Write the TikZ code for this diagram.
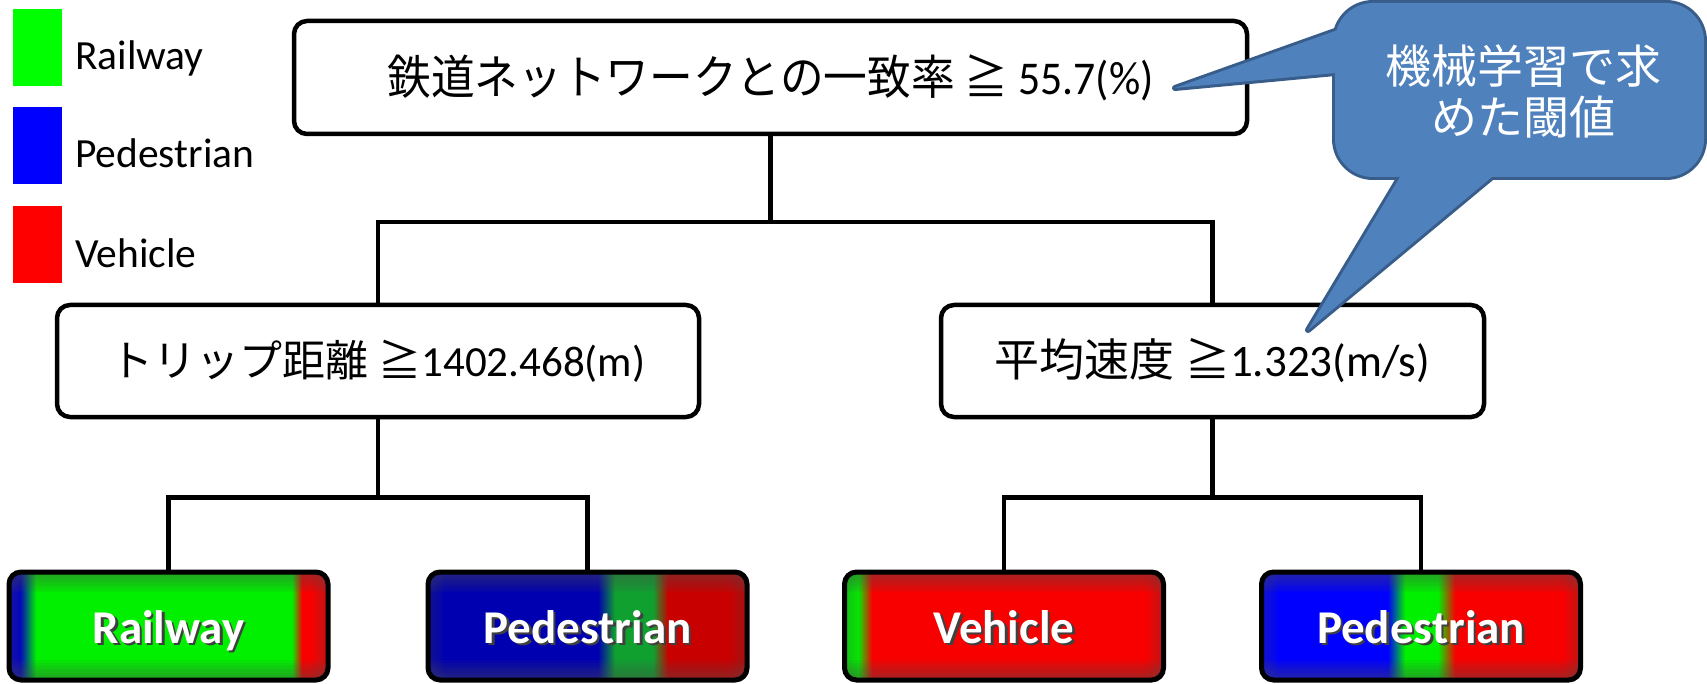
\documentclass[tikz,border=0pt]{standalone}
\usepackage{fontspec}
\setmainfont{Carlito}
\newfontfamily\jp{Noto Sans CJK JP}
\usetikzlibrary{calc}
\definecolor{cbfill}{HTML}{4F81BD}
\definecolor{cbline}{HTML}{385D8A}
\definecolor{lgreen}{HTML}{00FF00}
\definecolor{lblue}{HTML}{0000FF}
\definecolor{lred}{HTML}{FF0000}
\definecolor{bgreen}{HTML}{00F000}
\definecolor{bblue}{HTML}{0000C8}
\definecolor{bred}{HTML}{F80000}
\definecolor{dblue}{HTML}{0000B0}
\definecolor{dgreen}{HTML}{10A030}
\definecolor{dred}{HTML}{C80000}
\definecolor{vig}{HTML}{505050}
\newcommand\vignette[2]{%
  \foreach \i in {1,...,8}{%
    \fill[vig,opacity=0.07] (#1,572) rectangle (#2,572+2.5*\i);
    \fill[vig,opacity=0.07] (#1,680-2.5*\i) rectangle (#2,680);
    \fill[vig,opacity=0.04] (#1,572) rectangle (#1+2*\i,680);
    \fill[vig,opacity=0.04] (#2-2*\i,572) rectangle (#2,680);
  }}
\newcommand\shtext[1]{\makebox[0pt][l]{\hspace{2.5pt}\raisebox{-2.5pt}{\textcolor{black!75}{#1}}}#1}
\begin{document}
\begin{tikzpicture}[x=1pt,y=-1pt,
  box/.style={draw=black, line width=4.5pt, rounded corners=13pt, fill=white, inner sep=0pt, font=\fontsize{43}{50}\selectfont},
  conn/.style={draw=black, line width=4.5pt},
  leafbox/.style={draw=black, line width=5pt, rounded corners=12pt, minimum width=319pt, minimum height=108pt, inner sep=0pt, text height=34pt, text depth=0pt, text=white, font=\bfseries\fontsize{47}{54}\selectfont},
  legsq/.style={minimum width=49pt, minimum height=77pt, inner sep=0pt},
  legtext/.style={anchor=base west, inner sep=0pt, font=\fontsize{41.5}{48}\selectfont}]
\useasboundingbox (0,0) rectangle (1707,684);

% legend
\node[legsq, fill=lgreen] (lg1) at (37.5,47.5) {};
\node[legsq, fill=lblue] (lg2) at (37.5,145.5) {};
\node[legsq, fill=lred] (lg3) at (37.5,244.5) {};
\node[legtext] (lt1) at (75,70) {Railway};
\node[legtext] (lt2) at (75,168) {Pedestrian};
\node[legtext] (lt3) at (75,268) {Vehicle};

% leaf backgrounds
\begin{scope}
\clip[rounded corners=12pt] (9,572) rectangle (328,680);
\fill[bblue] (9,572) rectangle (20,680);
\shade[left color=bblue, right color=bgreen] (20,572) rectangle (36,680);
\fill[bgreen] (36,572) rectangle (292,680);
\shade[left color=bgreen, right color=bred] (292,572) rectangle (302,680);
\fill[bred] (302,572) rectangle (328,680);
\vignette{9}{328}
\end{scope}
\begin{scope}
\clip[rounded corners=12pt] (428,572) rectangle (747,680);
\fill[dblue] (428,572) rectangle (598,680);
\shade[left color=dblue, right color=dgreen] (598,572) rectangle (615,680);
\fill[dgreen] (615,572) rectangle (653,680);
\shade[left color=dgreen, right color=dred] (653,572) rectangle (668,680);
\fill[dred] (668,572) rectangle (747,680);
\vignette{428}{747}
\end{scope}
\begin{scope}
\clip[rounded corners=12pt] (845,572) rectangle (1163,680);
\fill[bgreen] (845,572) rectangle (858,680);
\shade[left color=bgreen, right color=bred] (858,572) rectangle (872,680);
\fill[bred] (872,572) rectangle (1163,680);
\vignette{845}{1163}
\end{scope}
\begin{scope}
\clip[rounded corners=12pt] (1262,572) rectangle (1580,680);
\fill[lblue] (1262,572) rectangle (1388,680);
\shade[left color=lblue, right color=bgreen] (1388,572) rectangle (1405,680);
\fill[bgreen] (1405,572) rectangle (1438,680);
\shade[left color=bgreen, right color=bred] (1438,572) rectangle (1455,680);
\fill[bred] (1455,572) rectangle (1580,680);
\vignette{1262}{1580}
\end{scope}

% boxes
\node[box, minimum width=953pt, minimum height=113pt, font=\fontsize{47}{54}\selectfont] (root) at (770.5,77.5)
  {\scalebox{0.93}[1]{{\jp 鉄道ネットワークとの一致率 ≧} 55.7(\%)}};
\node[box, minimum width=642pt, minimum height=112pt] (ml) at (378,361)
  {{\jp トリップ距離 ≧}1402.468(m)};
\node[box, minimum width=543pt, minimum height=112pt, font=\fontsize{45}{52}\selectfont] (mr) at (1212.5,361)
  {{\jp 平均速度 ≧}1.323(m/s)};

\node[leafbox] (l1) at (168.5,626) {\shtext{Railway}};
\node[leafbox] (l2) at (587.5,626) {\shtext{Pedestrian}};
\node[leafbox] (l3) at (1004,626) {\shtext{Vehicle}};
\node[leafbox] (l4) at (1421,626) {\shtext{Pedestrian}};

% connectors
\draw[conn] (root.south) -- ++(0,86) coordinate (j0);
\draw[conn] (ml.north) |- (j0) -| (mr.north);
\draw[conn] (ml.south) -- ++(0,78) coordinate (j1);
\draw[conn] (l1.north) |- (j1) -| (l2.north);
\draw[conn] (mr.south) -- ++(0,78) coordinate (j2);
\draw[conn] (l3.north) |- (j2) -| (l4.north);

% callout
\draw[cbline, line width=6pt, line join=round, rounded corners=38pt] (1335,3) rectangle (1704,177);
\draw[cbline, line width=6pt, line join=round] (1360,22.1) -- (1175,88) -- (1360,70.7) -- cycle;
\draw[cbline, line width=6pt, line join=round] (1410.2,160) -- (1308,330) -- (1512.4,160) -- cycle;
\fill[cbfill, rounded corners=38pt] (1335,3) rectangle (1704,177);
\fill[cbfill] (1360,22.1) -- (1175,88) -- (1360,70.7) -- cycle;
\fill[cbfill] (1410.2,160) -- (1308,330) -- (1512.4,160) -- cycle;
\node[text=white, align=center, inner sep=0pt, font=\jp\fontsize{46}{51}\selectfont] (cb) at (1523,91.5) {機械学習で求\\めた閾値};
\end{tikzpicture}
\end{document}
